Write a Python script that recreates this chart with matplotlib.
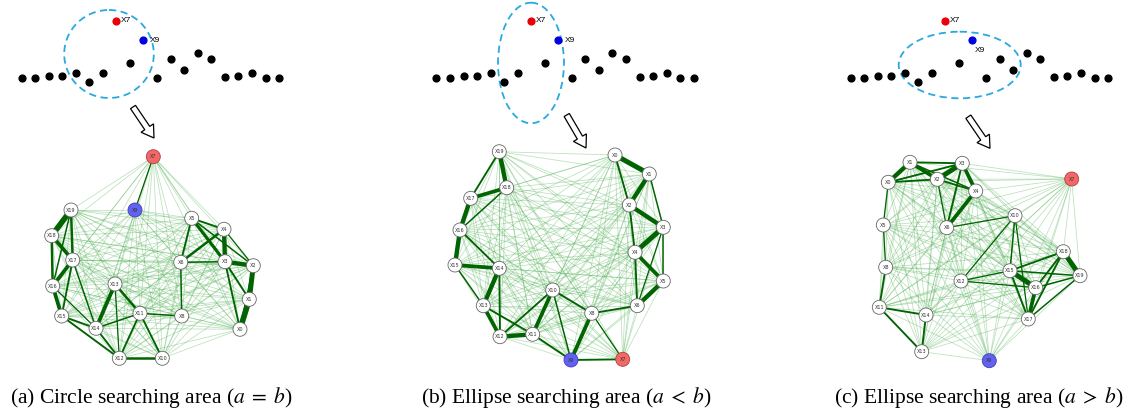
import matplotlib.pyplot as plt
from matplotlib.patches import Circle, Ellipse, FancyArrow
from itertools import combinations

plt.rcParams['mathtext.fontset'] = 'stix'

# top sketch: black points (panel a coordinates), shifted for panels b and c
dots_x = [21.7, 35, 49, 62.3, 76, 89.3, 103.3, 130, 157.3, 170.7, 184, 197.7, 211, 225, 238.3, 252.3, 265.7, 279]
dots_y = [77.7, 77.7, 75.7, 75.7, 73.3, 82.3, 72.7, 63.3, 77.7, 58.7, 70.3, 52.7, 58.7, 76.7, 75.7, 72.7, 77.7, 77.7]
x7_pt = (116, 20.7)
x9_pt = (143.3, 40)
panel_shift = [0, 414.5, 829]

# searching areas (center x, center y, width, height)
areas = [(109, 54, 89.6, 88), (531, 63, 66, 120.6), (959.7, 65, 122, 66.6)]
# hollow arrows (start, end)
arrows = [((133, 107), (154, 138)), ((566.7, 115), (586, 148)), ((968.3, 116.7), (990, 148.3))]

captions = [r'(a) Circle searching area ($a\;=\;b$)',
            r'(b) Ellipse searching area ($a\;<\;b$)',
            r'(c) Ellipse searching area ($a\;>\;b$)']
caption_x = [151, 566, 979]

# graph node positions, index = node number X0..X19
pos_a = [(240, 329.3), (249.3, 299.3), (253.3, 265.7), (225, 261.7), (224, 229.3),
         (191.7, 218.3), (180.7, 262.3), (153.3, 156.7), (181.7, 316), (135, 210),
         (162.3, 358.3), (140, 313.3), (119.3, 358.3), (115, 284), (96, 328.3),
         (61.7, 316), (52.7, 286), (72.7, 260), (51.7, 235.7), (71, 210)]
pos_b = [(615, 155), (649.3, 174), (629.3, 205), (663.3, 227.3), (635, 252.3),
         (663.3, 281), (637.3, 305.7), (622.7, 359.3), (591.7, 313.3), (571, 360),
         (552.7, 290), (532.7, 334.3), (500, 336.7), (483.3, 305.7), (499.3, 268.3),
         (455, 265), (460, 230), (470.7, 198.3), (506.7, 187.7), (499.3, 151.7)]
pos_c = [(888.3, 182.3), (910, 162.3), (937.3, 179.3), (962.3, 163.3), (975.7, 191),
         (883.3, 225), (946.7, 227.7), (1071.7, 179), (885.7, 267.3), (989.3, 360.7),
         (1015, 215.7), (879.3, 307.3), (961, 281), (921.7, 351.7), (926, 315),
         (1010, 270.7), (1035.7, 287.7), (1028.3, 319), (1063.3, 251.7), (1080, 275.7)]

# strong edges (i, j, weight)
edges_a = [(19, 18, 4.5), (19, 17, 2), (19, 16, 1.2), (18, 17, 3), (18, 16, 2), (17, 16, 3),
           (16, 15, 3), (17, 15, 1.5), (15, 14, 1.5), (15, 12, 1.5), (14, 13, 3), (14, 12, 1.5),
           (14, 11, 1.2), (13, 11, 2), (13, 12, 1), (11, 12, 1.5), (11, 10, 1.5), (11, 8, 1.2),
           (12, 10, 2), (8, 6, 1.2), (6, 5, 1.5), (6, 4, 2), (6, 3, 1.2), (5, 4, 1.5), (5, 3, 2.5),
           (5, 2, 1.2), (4, 3, 3.5), (4, 2, 1), (3, 2, 3.5), (3, 1, 1.5), (3, 0, 1.5), (2, 1, 4),
           (1, 0, 4.5), (2, 0, 1.2), (17, 14, 1.2), (16, 14, 1), (7, 9, 1)]
edges_b = [(0, 1, 4), (0, 2, 1.5), (1, 2, 3.5), (1, 3, 1.2), (2, 3, 3.5), (2, 4, 1.5),
           (3, 4, 4), (3, 5, 1.2), (4, 5, 3), (4, 6, 1.5), (5, 6, 3.5), (6, 8, 1.5),
           (8, 9, 3), (8, 10, 1.5), (10, 9, 1.2), (10, 11, 3), (10, 12, 1.5), (11, 12, 3.5),
           (11, 9, 1.5), (9, 7, 1.5), (8, 7, 1), (12, 14, 1.5), (13, 14, 3.5), (13, 12, 3),
           (13, 11, 1.5), (14, 15, 3), (14, 16, 1.5), (15, 16, 3.5), (16, 17, 3.5),
           (17, 18, 3), (18, 19, 3.5), (19, 17, 1.5), (18, 16, 1.2), (15, 13, 1.2), (3, 6, 1)]
edges_c = [(1, 3, 1.5), (1, 0, 3.5), (1, 2, 3), (0, 2, 1.5), (0, 3, 1.5), (2, 3, 4),
           (2, 4, 1.5), (3, 4, 3), (3, 6, 1.5), (4, 6, 3), (1, 4, 1.2), (0, 5, 1), (2, 6, 1),
           (6, 10, 1), (5, 8, 1), (8, 11, 1.5), (11, 14, 1.5), (11, 13, 1.5), (14, 13, 1.5),
           (12, 10, 1), (10, 15, 1.2), (10, 17, 1), (15, 18, 1.5), (15, 16, 4), (15, 17, 1.5),
           (15, 19, 1.2), (16, 17, 3), (16, 18, 1.5), (16, 19, 1.2), (18, 19, 4), (18, 17, 1.5),
           (17, 19, 1.2), (12, 15, 1), (12, 16, 1)]

fig = plt.figure(figsize=(11.29, 4.15), dpi=100)
ax = fig.add_axes([0, 0, 1, 1])
ax.set_xlim(0, 1129)
ax.set_ylim(415, 0)
ax.axis('off')

for k, dx in enumerate(panel_shift):
    ax.scatter([x + dx for x in dots_x], dots_y, s=24, color='black', zorder=3)
    ax.scatter([x7_pt[0] + dx], [x7_pt[1]], s=24, color='#e8000b', zorder=3)
    ax.scatter([x9_pt[0] + dx], [x9_pt[1]], s=24, color='#0000e0', zorder=3)
    ax.text(x7_pt[0] + dx + 5, x7_pt[1], 'X7', fontsize=6, va='center', family='Liberation Sans')
    if k < 2:
        ax.text(x9_pt[0] + dx + 7, x9_pt[1], 'X9', fontsize=6, va='center', family='Liberation Sans')
    else:
        ax.text(x9_pt[0] + dx + 3, x9_pt[1] + 11, 'X9', fontsize=6, va='center', family='Liberation Sans')
    cx, cy, w, h = areas[k]
    ax.add_patch(Ellipse((cx, cy), w, h, fill=False, ec='#29a9e0', lw=1.3, ls=(0, (4, 2.5)), zorder=2))
    (x0, y0), (x1, y1) = arrows[k]
    ax.add_patch(FancyArrow(x0, y0, x1 - x0, y1 - y0, width=6, head_width=15, head_length=12,
                            length_includes_head=True, fc='white', ec='black', lw=0.9))
    ax.text(caption_x[k], 397, captions[k], fontsize=15.5, ha='center', va='center',
            family='Liberation Serif')

for pos, edges in [(pos_a, edges_a), (pos_b, edges_b), (pos_c, edges_c)]:
    for i, j in combinations(range(len(pos)), 2):
        ax.plot([pos[i][0], pos[j][0]], [pos[i][1], pos[j][1]], color='#4caf50', lw=0.55,
                alpha=0.38, zorder=1)
    for i, j, w in edges:
        ax.plot([pos[i][0], pos[j][0]], [pos[i][1], pos[j][1]], color='#006400', lw=w * 0.9,
                solid_capstyle='round', zorder=2)
    for n, (x, y) in enumerate(pos):
        fc, ec = 'white', '#666666'
        if n == 7:
            fc, ec = '#f26868', '#b04040'
        elif n == 9:
            fc, ec = '#6262f2', '#4040b0'
        ax.add_patch(Circle((x, y), 7, fc=fc, ec=ec, lw=0.6, zorder=4))
        ax.text(x, y, 'X%d' % n, fontsize=3.5, ha='center', va='center', color='#333333', zorder=5)

plt.savefig('out.png', dpi=100)
